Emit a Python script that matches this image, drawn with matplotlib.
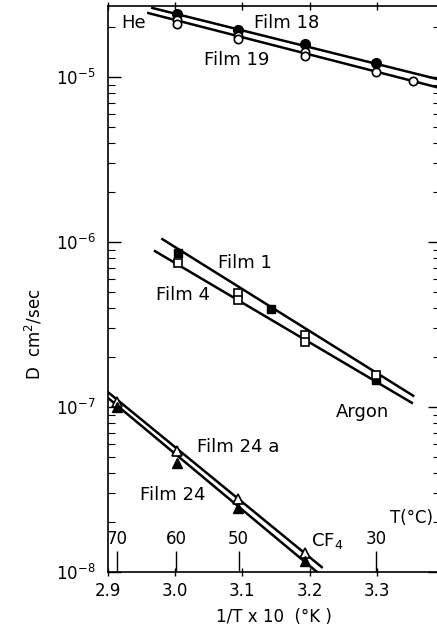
import numpy as np
import matplotlib.pyplot as plt
from matplotlib.ticker import LogLocator, NullFormatter, FixedLocator, FixedFormatter

# x = 1/T x 10^3 (deg K), D in cm^2/sec
# Helium
he18_x = [3.002, 3.094, 3.193, 3.299]
he18_d = [2.41e-5, 1.93e-5, 1.585e-5, 1.22e-5]
he19_x = [3.002, 3.002, 3.094, 3.094, 3.193, 3.193, 3.299, 3.354]
he19_d = [2.22e-5, 2.10e-5, 1.77e-5, 1.70e-5, 1.42e-5, 1.34e-5, 1.07e-5, 9.5e-6]
he18_fit_x = [2.966, 3.394]
he18_fit_d = [2.62e-5, 9.62e-6]
he19_fit_x = [2.960, 3.394]
he19_fit_d = [2.44e-5, 8.57e-6]

# Argon
ar1_x = [3.004, 3.143, 3.299]
ar1_d = [8.57e-7, 3.93e-7, 1.46e-7]
ar4_x = [3.004, 3.094, 3.094, 3.193, 3.193, 3.299]
ar4_d = [7.46e-7, 4.91e-7, 4.45e-7, 2.73e-7, 2.48e-7, 1.56e-7]
ar1_fit_x = [2.981, 3.354]
ar1_fit_d = [1.04e-6, 1.17e-7]
ar4_fit_x = [2.970, 3.352]
ar4_fit_d = [8.8e-7, 1.06e-7]

# CF4
cf24a_x = [2.914, 3.002, 3.094, 3.193]
cf24a_d = [1.07e-7, 5.41e-8, 2.77e-8, 1.30e-8]
cf24_x = [2.914, 3.002, 3.094, 3.193]
cf24_d = [1.0e-7, 4.58e-8, 2.44e-8, 1.17e-8]
cf24a_fit_x = [2.9, 3.218]
cf24a_fit_d = [1.23e-7, 1.07e-8]
cf24_fit_x = [2.9, 3.211]
cf24_fit_d = [1.135e-7, 1.0e-8]

# temperature scale (deg C)
tc_ticks = [70, 60, 50, 30]
tc_labels = ['70', '60', '50', '30']

plt.rcParams['font.family'] = 'DejaVu Sans'

fig = plt.figure(figsize=(4.37, 6.26), dpi=100)
# right spine sits just past the right edge of the picture, as in the scan
ax = fig.add_axes([0.247, 0.0863, 0.760, 0.904])

lw = 1.8
ms = 7
ax.plot(he18_fit_x, he18_fit_d, color='black', lw=lw)
ax.plot(he19_fit_x, he19_fit_d, color='black', lw=lw)
ax.plot(ar1_fit_x, ar1_fit_d, color='black', lw=lw)
ax.plot(ar4_fit_x, ar4_fit_d, color='black', lw=lw)
ax.plot(cf24a_fit_x, cf24a_fit_d, color='black', lw=lw)
ax.plot(cf24_fit_x, cf24_fit_d, color='black', lw=lw)

ax.plot(he18_x, he18_d, 'o', color='black', ms=ms, zorder=3)
ax.plot(he19_x, he19_d, 'o', mfc='white', mec='black', mew=1.2, ms=ms - 1, zorder=3)
ax.plot(ar1_x, ar1_d, 's', color='black', ms=ms - 1, zorder=3)
ax.plot(ar4_x, ar4_d, 's', mfc='white', mec='black', mew=1.2, ms=ms - 1.5, zorder=3)
ax.plot(cf24a_x, cf24a_d, '^', mfc='white', mec='black', mew=1.2, ms=ms, zorder=3)
ax.plot(cf24_x, cf24_d, '^', color='black', ms=ms, zorder=3)

fs = 13
ax.text(2.938, 2.12e-5, 'He', fontsize=fs, ha='center', va='center',
        bbox=dict(facecolor='white', edgecolor='none', pad=0.5), zorder=4)
ax.text(3.166, 2.12e-5, 'Film 18', fontsize=fs, ha='center', va='center')
ax.text(3.092, 1.27e-5, 'Film 19', fontsize=fs, ha='center', va='center')
ax.text(3.104, 7.46e-7, 'Film 1', fontsize=fs, ha='center', va='center')
ax.text(3.012, 4.78e-7, 'Film 4', fontsize=fs, ha='center', va='center')
ax.text(3.279, 9.3e-8, 'Argon', fontsize=fs, ha='center', va='center')
ax.text(3.094, 5.73e-8, 'Film 24 a', fontsize=fs, ha='center', va='center')
ax.text(2.997, 2.93e-8, 'Film 24', fontsize=fs, ha='center', va='center')
ax.text(3.226, 1.54e-8, 'CF$_4$', fontsize=fs, ha='center', va='center')

ax.set_yscale('log')
ax.set_xlim(2.9, 3.394)
ax.set_ylim(1e-8, 2.69e-5)

ax.set_xticks([2.9, 3.0, 3.1, 3.2, 3.3])
ax.set_xticklabels(['2.9', '3.0', '3.1', '3.2', '3.3'])
ax.xaxis.set_minor_locator(FixedLocator([]))
ax.yaxis.set_major_locator(LogLocator(base=10, numticks=10))
ax.yaxis.set_minor_locator(LogLocator(base=10, subs=np.arange(2, 10), numticks=10))
ax.yaxis.set_minor_formatter(NullFormatter())

ax.tick_params(axis='x', which='major', direction='inout', length=6, width=1,
               top=True, labelsize=12, pad=4)
ax.tick_params(axis='y', which='major', direction='in', length=9, width=1,
               right=True, labelsize=12, pad=9)
ax.tick_params(axis='y', which='minor', direction='in', length=5, width=0.8, right=True)

for s in ax.spines.values():
    s.set_linewidth(1.2)

ax.set_xlabel('1/T x 10  (°K )', fontsize=12, labelpad=6)
ax.set_ylabel('D  cm$^2$/sec', fontsize=12)
ax.yaxis.set_label_coords(-0.19, 0.42)

# deg C scale drawn along the bottom axis, ticks and labels pointing up
secax = ax.secondary_xaxis('top', functions=(lambda x: 1000.0 / x - 273.15,
                                              lambda t: 1000.0 / (t + 273.15)))
secax.set_location(0.0)
secax.xaxis.set_major_locator(FixedLocator(tc_ticks))
secax.xaxis.set_major_formatter(FixedFormatter(tc_labels))
secax.tick_params(axis='x', direction='out', length=15, width=1, labelsize=12, pad=2)
secax.spines['top'].set_visible(False)
# the 70 C mark is dashed in the original
ticks = secax.xaxis.get_major_ticks()
ticks[0].tick2line.set_linestyle((0, (2.5, 1.5)))
ax.text(0.85, 0.095, 'T(°C)', transform=ax.transAxes, fontsize=12, ha='left', va='center')

fig.savefig('out.png', dpi=100)
